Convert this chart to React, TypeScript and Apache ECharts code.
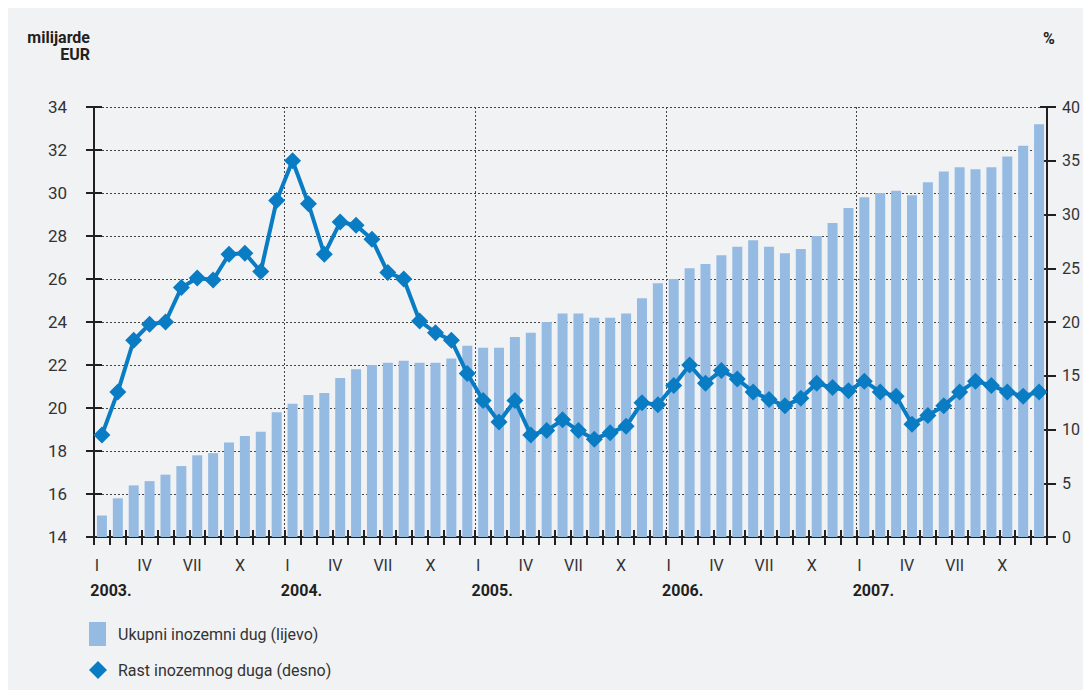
import React, { useEffect, useRef } from 'react';
import * as echarts from 'echarts';

const years = ['2003.', '2004.', '2005.', '2006.', '2007.'];
const monthNumerals = ['I', 'II', 'III', 'IV', 'V', 'VI', 'VII', 'VIII', 'IX', 'X', 'XI', 'XII'];

// Ukupni inozemni dug, milijarde EUR (lijeva os)
const debtBillionEUR = [
  15.0, 15.8, 16.4, 16.6, 16.9, 17.3, 17.8, 17.9, 18.4, 18.7, 18.9, 19.8,
  20.2, 20.6, 20.7, 21.4, 21.8, 22.0, 22.1, 22.2, 22.1, 22.1, 22.3, 22.9,
  22.8, 22.8, 23.3, 23.5, 24.0, 24.4, 24.4, 24.2, 24.2, 24.4, 25.1, 25.8,
  26.0, 26.5, 26.7, 27.1, 27.5, 27.8, 27.5, 27.2, 27.4, 28.0, 28.6, 29.3,
  29.8, 30.0, 30.1, 29.9, 30.5, 31.0, 31.2, 31.1, 31.2, 31.7, 32.2, 33.2,
];

// Rast inozemnog duga, % (desna os)
const debtGrowthPct = [
  9.5, 13.5, 18.3, 19.8, 20.0, 23.2, 24.1, 23.9, 26.3, 26.4, 24.7, 31.3,
  35.0, 31.0, 26.3, 29.3, 29.0, 27.7, 24.6, 24.0, 20.1, 19.0, 18.3, 15.2,
  12.7, 10.7, 12.7, 9.5, 9.9, 10.9, 9.9, 9.1, 9.7, 10.3, 12.5, 12.3,
  14.1, 16.0, 14.3, 15.5, 14.7, 13.5, 12.8, 12.2, 12.9, 14.3, 13.9, 13.6,
  14.5, 13.5, 13.1, 10.5, 11.3, 12.2, 13.5, 14.5, 14.1, 13.5, 13.1, 13.5,
];

const leftMin = 14;
const leftMax = 34;
const leftStep = 2;
const rightMin = 0;
const rightMax = 40;
const rightStep = 5;

const barName = 'Ukupni inozemni dug (lijevo)';
const lineName = 'Rast inozemnog duga (desno)';

const categories = years.flatMap((y) => monthNumerals.map((m) => `${m}|${y}`));

const FONT = 'Roboto, "Liberation Sans", sans-serif';
const TEXT = '#333333';
const AXIS = '#231f20';
const BAR = '#96bbe3';
const LINE = '#0a7cc4';
const BG = '#f1f2f4';

const W = 1075;
const H = 682;

export default function App() {
  const ref = useRef<HTMLDivElement>(null);

  useEffect(() => {
    if (!ref.current) return;
    const prevOverflow = document.documentElement.style.overflow;
    document.documentElement.style.overflow = 'hidden';
    const chart = echarts.init(ref.current, undefined, { renderer: 'svg' });

    const yLeftBase = {
      type: 'value',
      min: leftMin,
      max: leftMax,
      interval: leftStep,
      position: 'left',
      offset: 0,
    };
    const yRightBase = {
      type: 'value',
      min: rightMin,
      max: rightMax,
      interval: rightStep,
      position: 'right',
      offset: 0,
    };

    const option = {
      animation: false,
      backgroundColor: BG,
      textStyle: { fontFamily: FONT },
      grid: { left: 86, right: W - 1039, top: 99, bottom: H - 529, containLabel: false },
      legend: [
        {
          data: [{ name: barName, icon: 'rect' }],
          left: 81,
          top: 614,
          padding: 0,
          itemWidth: 17,
          itemHeight: 24,
          selectedMode: false,
          textStyle: { fontSize: 16, color: TEXT, fontFamily: FONT, padding: [0, 0, 0, 7] },
        },
        {
          data: [{ name: lineName, icon: 'diamond' }],
          left: 81,
          top: 653,
          padding: 0,
          itemWidth: 18,
          itemHeight: 18,
          selectedMode: false,
          textStyle: { fontSize: 16, color: TEXT, fontFamily: FONT, padding: [0, 0, 0, 6] },
        },
      ],
      graphic: [
        {
          type: 'text',
          x: 82,
          y: 21,
          style: {
            text: 'milijarde\nEUR',
            align: 'right',
            verticalAlign: 'top',
            fontSize: 16,
            lineHeight: 17,
            fontWeight: 'bold',
            fontFamily: FONT,
            fill: AXIS,
          },
        },
        {
          type: 'text',
          x: 1035,
          y: 22,
          style: {
            text: '%',
            align: 'left',
            verticalAlign: 'top',
            fontSize: 16,
            fontWeight: 'bold',
            fontFamily: FONT,
            fill: AXIS,
          },
        },
      ],
      xAxis: [
        {
          type: 'category',
          data: categories,
          position: 'bottom',
          boundaryGap: true,
          axisLine: { show: true, lineStyle: { color: AXIS, width: 2 } },
          axisTick: { show: true, inside: true, length: 7, interval: 0, lineStyle: { color: AXIS, width: 2 } },
          axisLabel: {
            interval: 0,
            margin: 20,
            fontSize: 16,
            color: TEXT,
            fontFamily: FONT,
            padding: [0, 10, 0, 0],
            formatter: (v: string, i: number) => (i % 3 === 0 ? v.split('|')[0] : ''),
          },
          splitLine: { show: false },
        },
        {
          type: 'category',
          data: categories,
          position: 'bottom',
          offset: 0,
          boundaryGap: true,
          axisLine: { show: true, lineStyle: { color: AXIS, width: 2 } },
          axisTick: { show: true, inside: false, length: 8, interval: 0, lineStyle: { color: AXIS, width: 2 } },
          axisLabel: {
            interval: 0,
            margin: 45,
            fontSize: 16,
            fontWeight: 'bold',
            color: AXIS,
            fontFamily: FONT,
            align: 'center',
            padding: [0, 0, 0, 18],
            formatter: (v: string, i: number) => (i % 12 === 0 ? v.split('|')[1] : ''),
          },
          splitLine: {
            show: true,
            interval: (i: number) => i % 12 === 0 && i > 0,
            lineStyle: { color: '#444', type: [2, 2], width: 1 },
          },
        },
      ],
      yAxis: [
        {
          ...yLeftBase,
          axisLine: { show: true, lineStyle: { color: AXIS, width: 2 } },
          axisTick: { show: true, inside: false, length: 8, lineStyle: { color: AXIS, width: 2 } },
          axisLabel: { margin: 27, fontSize: 17, color: TEXT, fontFamily: FONT },
          splitLine: { show: true, lineStyle: { color: '#444', type: [2, 2], width: 1 } },
        },
        {
          ...yRightBase,
          axisLine: { show: true, lineStyle: { color: AXIS, width: 2 } },
          axisTick: { show: true, inside: false, length: 9, lineStyle: { color: AXIS, width: 2 } },
          axisLabel: { margin: 15, fontSize: 16, color: TEXT, fontFamily: FONT },
          splitLine: { show: false },
        },
        {
          ...yLeftBase,
          axisLine: { show: false },
          axisTick: { show: true, inside: true, length: 8, lineStyle: { color: AXIS, width: 2 } },
          axisLabel: { show: false },
          splitLine: { show: false },
        },
        {
          ...yRightBase,
          axisLine: { show: false },
          axisTick: { show: true, inside: true, length: 7, lineStyle: { color: AXIS, width: 2 } },
          axisLabel: { show: false },
          splitLine: { show: false },
        },
      ],
      series: [
        {
          name: barName,
          type: 'bar',
          xAxisIndex: 0,
          yAxisIndex: 0,
          data: debtBillionEUR,
          barWidth: 10,
          itemStyle: { color: BAR },
          z: 2,
        },
        {
          name: lineName,
          type: 'line',
          xAxisIndex: 0,
          yAxisIndex: 1,
          data: debtGrowthPct,
          symbol: 'diamond',
          symbolSize: 17,
          lineStyle: { color: LINE, width: 4 },
          itemStyle: { color: LINE },
          z: 3,
        },
      ],
    };

    chart.setOption(option as any);
    return () => {
      chart.dispose();
      document.documentElement.style.overflow = prevOverflow;
    };
  }, []);

  return <div ref={ref} style={{ width: W, height: H }} />;
}
